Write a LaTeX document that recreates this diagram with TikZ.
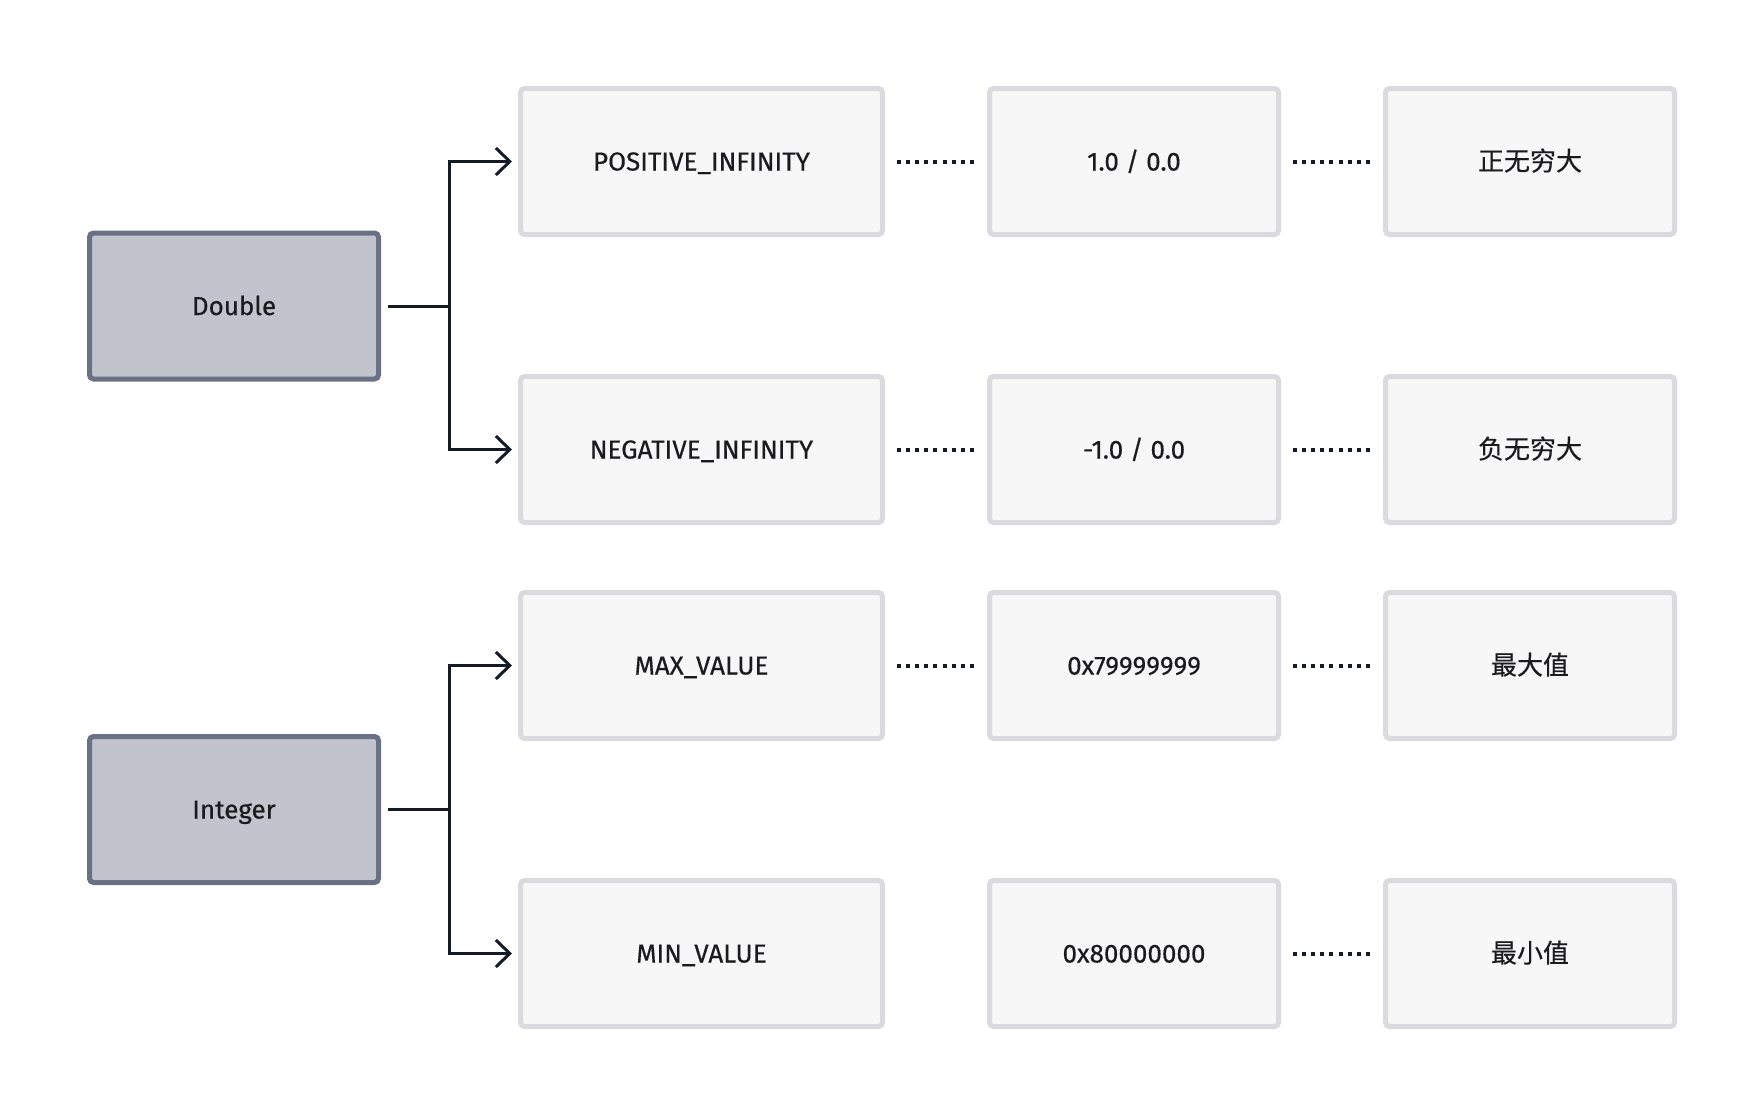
\documentclass[tikz,border=0pt]{standalone}
\usepackage{fontspec}
\setmainfont{Fira Sans}[UprightFeatures={FakeBold=0.45}]
\newfontfamily\cjk{Noto Sans CJK SC}[UprightFeatures={FakeBold=0.45}]
\usetikzlibrary{arrows.meta,shadows}
\definecolor{gfill}{HTML}{C1C4CC}
\definecolor{gline}{HTML}{6B7184}
\definecolor{lfill}{HTML}{F7F7F7}
\definecolor{lline}{HTML}{DBDADF}
\definecolor{ink}{HTML}{141B26}
\definecolor{txt}{HTML}{1B1B1F}
\tikzset{
  base/.style={rectangle, rounded corners=4pt, line width=5pt, text=txt,
    font=\fontsize{26}{30}\selectfont, minimum height=146pt,
    text height=18pt, text depth=0pt,
    drop shadow={opacity=0.07, shadow xshift=0pt, shadow yshift=-2pt}},
  typebox/.style={base, draw=gline, fill=gfill, minimum width=289pt},
  leftbox/.style={base, draw=lline, fill=lfill, minimum width=362pt},
  valbox/.style={base, draw=lline, fill=lfill, minimum width=289pt},
  conn/.style={draw=ink, line width=3pt},
  arr/.style={conn, -{Straight Barb[length=14pt,width=27pt,line width=3pt]}},
  dotline/.style={draw=ink, line width=4pt, dash pattern=on 4pt off 5.1pt}
}
\begin{document}
\begin{tikzpicture}[x=1pt,y=-1pt]
\useasboundingbox[fill=white] (0,0) rectangle (1764,1116);
% type boxes
\node[typebox] (D) at (234,306) {Double};
\node[typebox] (I) at (234,809.5) {Integer};
% row 1
\node[leftbox] (P)  at (701.5,161.5) {POSITIVE\_INFINITY};
\node[valbox]  (P2) at (1134,161.5) {1.0 / 0.0};
\node[valbox]  (P3) at (1530,161.5) {\cjk 正无穷大};
% row 2
\node[leftbox] (N)  at (701.5,449.5) {NEGATIVE\_INFINITY};
\node[valbox]  (N2) at (1134,449.5) {-1.0 / 0.0};
\node[valbox]  (N3) at (1530,449.5) {\cjk 负无穷大};
% row 3
\node[leftbox] (MX)  at (701.5,665.5) {MAX\_VALUE};
\node[valbox]  (MX2) at (1134,665.5) {0x79999999};
\node[valbox]  (MX3) at (1530,665.5) {\cjk 最大值};
% row 4
\node[leftbox] (MN)  at (701.5,953.5) {MIN\_VALUE};
\node[valbox]  (MN2) at (1134,953.5) {0x80000000};
\node[valbox]  (MN3) at (1530,953.5) {\cjk 最小值};
% branch connectors
\coordinate (jd) at (449,306);
\coordinate (ji) at (449,809.5);
\draw[conn] ([xshift=7pt]D.east) -- (jd);
\draw[arr] (jd) |- ([xshift=-6pt]P.west);
\draw[arr] (jd) |- ([xshift=-6pt]N.west);
\draw[conn] ([xshift=7pt]I.east) -- (ji);
\draw[arr] (ji) |- ([xshift=-6pt]MX.west);
\draw[arr] (ji) |- ([xshift=-6pt]MN.west);
% dotted links
\draw[dotline] ([xshift=12pt]P.east) -- ([xshift=-13pt]P2.west);
\draw[dotline] ([xshift=12pt]P2.east) -- ([xshift=-13pt]P3.west);
\draw[dotline] ([xshift=12pt]N.east) -- ([xshift=-13pt]N2.west);
\draw[dotline] ([xshift=12pt]N2.east) -- ([xshift=-13pt]N3.west);
\draw[dotline] ([xshift=12pt]MX.east) -- ([xshift=-13pt]MX2.west);
\draw[dotline] ([xshift=12pt]MX2.east) -- ([xshift=-13pt]MX3.west);
\draw[dotline] ([xshift=12pt]MN2.east) -- ([xshift=-13pt]MN3.west);
\end{tikzpicture}
\end{document}
